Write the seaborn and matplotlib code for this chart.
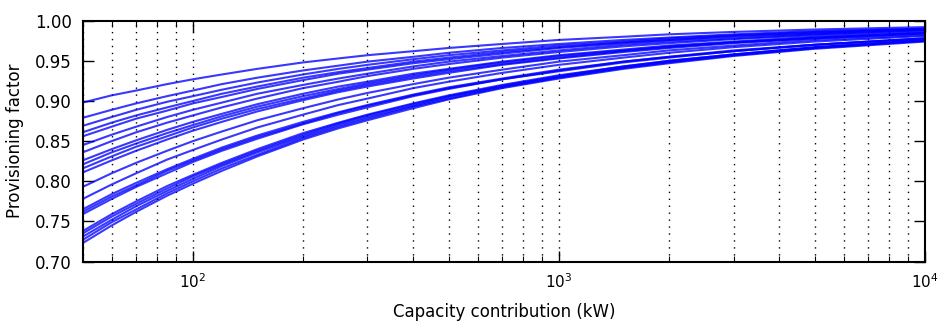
import matplotlib
matplotlib.use("Agg")
import matplotlib.pyplot as plt
import seaborn as sns
import pandas as pd
from matplotlib.ticker import LogLocator, MultipleLocator, FormatStrFormatter, NullFormatter

# Capacity contribution (kW) sample points
capacity_kw = [50, 60, 70, 85, 100, 120, 150, 200, 250, 300, 400, 500, 700,
               1000, 1500, 2000, 3000, 5000, 10000]

# Provisioning factor curves
curves = [
    [.898, .907, .913, .921, .927, .933, .940, .948, .953, .957, .962, .966, .971, .976, .980, .983, .986, .989, .992],
    [.879, .889, .897, .906, .913, .921, .929, .938, .944, .949, .955, .960, .966, .971, .976, .979, .983, .987, .990],
    [.869, .880, .889, .899, .906, .914, .923, .933, .940, .945, .952, .957, .963, .969, .974, .978, .982, .986, .990],
    [.861, .873, .882, .892, .900, .909, .918, .929, .936, .941, .949, .954, .961, .967, .973, .976, .981, .985, .989],
    [.856, .868, .878, .888, .897, .905, .915, .926, .934, .939, .947, .952, .959, .966, .972, .976, .980, .984, .989],
    [.845, .858, .868, .880, .889, .898, .909, .920, .928, .934, .943, .949, .956, .963, .970, .974, .978, .983, .988],
    [.836, .850, .861, .873, .882, .892, .903, .916, .924, .931, .940, .946, .954, .961, .968, .972, .977, .982, .987],
    [.826, .840, .851, .864, .874, .884, .896, .909, .918, .924, .934, .940, .949, .957, .964, .969, .974, .980, .985],
    [.821, .836, .847, .860, .870, .881, .893, .906, .915, .922, .932, .939, .948, .956, .963, .968, .973, .979, .985],
    [.816, .831, .843, .856, .867, .878, .890, .903, .913, .920, .930, .937, .946, .954, .962, .967, .973, .978, .984],
    [.811, .826, .838, .852, .863, .874, .887, .901, .911, .918, .928, .935, .945, .953, .961, .966, .972, .978, .984],
    [.793, .810, .823, .838, .850, .862, .876, .891, .902, .910, .921, .929, .939, .949, .957, .963, .969, .976, .982],
    [.778, .796, .810, .827, .839, .852, .867, .883, .895, .903, .916, .924, .935, .945, .954, .960, .967, .974, .981],
    [.765, .784, .798, .815, .828, .842, .857, .874, .886, .895, .908, .917, .928, .939, .949, .955, .963, .970, .978],
    [.762, .781, .795, .813, .826, .840, .855, .872, .885, .894, .907, .916, .927, .938, .949, .955, .962, .970, .978],
    [.759, .778, .793, .810, .824, .838, .853, .871, .883, .892, .906, .915, .927, .937, .948, .954, .962, .970, .978],
    [.738, .759, .775, .794, .808, .823, .840, .860, .873, .883, .897, .907, .920, .932, .943, .950, .958, .967, .976],
    [.735, .756, .772, .791, .806, .821, .838, .858, .872, .882, .896, .906, .919, .931, .943, .950, .958, .967, .976],
    [.731, .752, .769, .788, .803, .819, .836, .856, .870, .880, .894, .905, .918, .930, .942, .949, .957, .966, .975],
    [.727, .749, .765, .785, .800, .816, .833, .854, .868, .878, .893, .903, .917, .929, .941, .948, .957, .966, .975],
    [.723, .745, .762, .782, .797, .813, .831, .852, .866, .876, .891, .902, .916, .928, .940, .947, .956, .965, .974],
]

rows = []
for i, ys in enumerate(curves):
    for x, y in zip(capacity_kw, ys):
        rows.append({"curve": i, "capacity": x, "factor": y})
df = pd.DataFrame(rows)

sns.set_style("white")
plt.rcParams["font.family"] = ["DejaVu Sans"]
plt.rcParams["font.size"] = 12
plt.rcParams["text.color"] = "black"
plt.rcParams["axes.labelcolor"] = "black"
plt.rcParams["xtick.color"] = "black"
plt.rcParams["ytick.color"] = "black"

fig = plt.figure(figsize=(9.39, 3.23), dpi=100)
ax = fig.add_axes([0.088, 0.190, 0.897, 0.746])

sns.lineplot(data=df, x="capacity", y="factor", units="curve", estimator=None,
             color=(0, 0, 1), alpha=0.78, linewidth=1.5, ax=ax, legend=False)

ax.set_xscale("log")
ax.set_xlim(50, 10000)
ax.set_ylim(0.70, 1.00)
ax.yaxis.set_major_locator(MultipleLocator(0.05))
ax.yaxis.set_major_formatter(FormatStrFormatter("%.2f"))
ax.xaxis.set_major_locator(LogLocator(base=10))
ax.xaxis.set_minor_locator(LogLocator(base=10, subs=range(2, 10)))
ax.xaxis.set_minor_formatter(NullFormatter())

ax.grid(True, which="both", axis="x", color="black", linestyle=(0, (1, 4)), linewidth=1.0)
ax.grid(False, axis="y")

for s in ax.spines.values():
    s.set_visible(True)
    s.set_linewidth(1.5)
    s.set_color("black")

ax.tick_params(which="major", direction="in", length=8, width=1, top=True, right=True,
               bottom=True, left=True, labelsize=12, pad=8, colors="black")
ax.tick_params(axis="x", which="major", labelsize=11)
ax.tick_params(which="minor", direction="in", length=4, width=0.8, top=True, bottom=True)
ax.tick_params(axis="y", which="minor", left=False, right=False)

ax.set_xlabel("Capacity contribution (kW)", fontsize=12, labelpad=8, color="black")
ax.set_ylabel("Provisioning factor", fontsize=12, labelpad=8, color="black")

fig.savefig("out.png", dpi=100)
